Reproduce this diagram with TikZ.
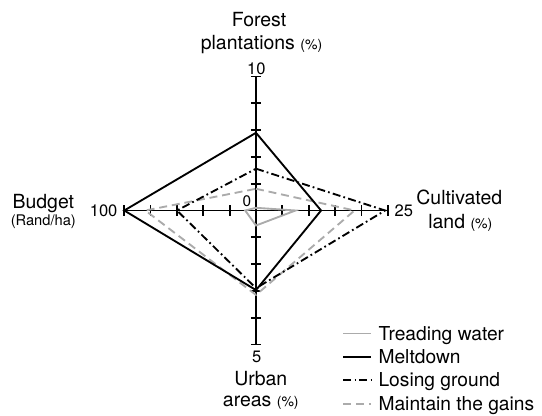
\documentclass[tikz,border=0pt]{standalone}
\usepackage{fontspec}
\setmainfont{TeX Gyre Heros}
\usetikzlibrary{positioning}

\tikzset{
  axis/.style={line width=1.3pt},
  tw/.style={line width=1.4pt, black!33},
  melt/.style={line width=1.4pt, black},
  lose/.style={line width=1.4pt, black, dash pattern=on 6pt off 2.4pt on 1.3pt off 2.4pt},
  gain/.style={line width=1.4pt, black!33, dash pattern=on 6pt off 3.6pt},
  lab/.style={font=\fontsize{14.6}{17}\selectfont, inner sep=0pt, anchor=base},
  num/.style={font=\fontsize{12.4}{14}\selectfont, inner sep=0pt, anchor=base},
  legtext/.style={font=\fontsize{14.4}{17}\selectfont, inner sep=0pt, anchor=base west},
}
\newcommand{\pct}{{\fontsize{10.5}{12}\selectfont(\%)}}

\begin{document}
\begin{tikzpicture}[x=0.75pt,y=-0.75pt]
    \useasboundingbox (0,0) rectangle (542,416);

    % Radar part: one unit is one tick of an axis
    \begin{scope}[shift={(256,210.5)},x=19.76pt,y=20.1pt]
    \coordinate (o) at (0,0);
    \coordinate (top) at (0,5);
    \coordinate (bottom) at (0,-5);
    \coordinate (left) at (-5,0);
    \coordinate (right) at (5,0);

    % Axes with their ticks
    \draw[axis] (left) -- (right);
    \draw[axis] (bottom) -- (top);
    \foreach \i in {1,...,5} {
        \draw[axis] (\i,-0.19) -- (\i,0.19);
        \draw[axis] (-\i,-0.19) -- (-\i,0.19);
        \draw[axis] (-0.19,\i) -- (0.19,\i);
        \draw[axis] (-0.19,-\i) -- (0.19,-\i);
    }

    % Axes labels:
    \node[num] (ten) at (0.01,5.08) {10};
    \node[num, font=\fontsize{11.5}{13}\selectfont] (zero) at (-0.35,0.14) {0};
    \node[num, anchor=base east] (hundred) at (-5.25,-0.23) {100};
    \node[num, anchor=base west] (twentyfive) at (5.25,-0.23) {25};
    \node[num] (five) at (0.03,-5.68) {5};

    % Scenarios
    \draw[tw] (0,0.1) -- (1.5,0) -- (0,-0.56) -- (-0.41,0) -- cycle;
    \draw[gain] (0,0.81) -- (3.74,0) -- (0,-3.15) -- (-4.2,0) -- cycle;
    \draw[lose] (0,1.56) -- (4.9,0) -- (0,-2.9) -- (-3.0,0) -- cycle;
    \draw[melt] (0,2.9) -- (2.47,0) -- (0,-2.97) -- (-5,0) -- cycle;
    \end{scope}

    % Main labels of the axes
    \node[lab] (forest) at (259,26.7) {Forest};
    \node[lab] (plant) at (261.5,50) {plantations \pct};
    \node[lab] (budget) at (43.3,208.3) {Budget};
    \node[lab, font=\fontsize{11}{13}\selectfont] (rand) at (43.3,226) {(Rand/ha)};
    \node[lab] (cult) at (459.3,205) {Cultivated};
    \node[lab] (land) at (460.3,228.3) {land \pct};
    \node[lab] (urban) at (260.8,385) {Urban};
    \node[lab] (areas) at (260.8,406.7) {areas \pct};

    % Legend
    \node[legtext] (ltw) at (378.3,340) {Treading water};
    \node[legtext] (lmelt) at (378.3,363.3) {Meltdown};
    \node[legtext] (llose) at (378.3,386) {Losing ground};
    \node[legtext] (lgain) at (378.3,410) {Maintain the gains};
    \draw[tw] (ltw.base west) ++(-35,-6.5) -- ++(27.4,0);
    \draw[melt] (lmelt.base west) ++(-35,-6) -- ++(27.4,0);
    \draw[lose] (llose.base west) ++(-35,-6) -- ++(27.4,0);
    \draw[gain] (lgain.base west) ++(-35,-6) -- ++(27.4,0);
\end{tikzpicture}
\end{document}
